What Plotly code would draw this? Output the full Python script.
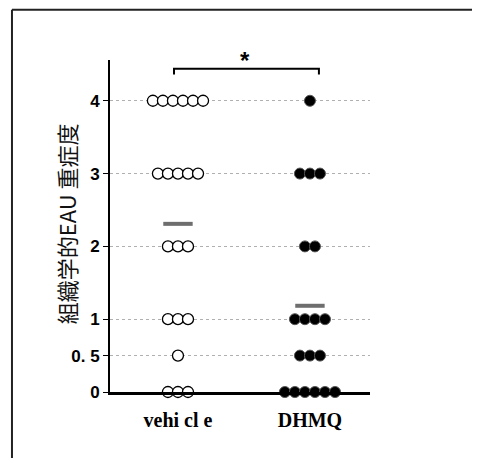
import plotly.graph_objects as go

# ---- data ----
groups = ["vehicle", "DHMQ"]
group_labels = ["vehi cl e", "DHMQ"]
score_levels = [0, 0.5, 1, 2, 3, 4]
vehicle_counts = [3, 1, 3, 3, 5, 6]   # number of animals at each score level
dhmq_counts = [6, 3, 4, 2, 3, 1]
y_tickvals = [0, 0.5, 1, 2, 3, 4]
y_ticktext = ["0", "0. 5", "1", "2", "3", "4"]
y_title = "組織学的EAU 重症度"
sig_label = "*"

# ---- layout helpers (swarm spacing in x data units) ----
STEP = 0.076

def swarm(center, counts):
    xs, ys = [], []
    for lvl, n in zip(score_levels, counts):
        for i in range(n):
            xs.append(center + (i - (n - 1) / 2) * STEP)
            ys.append(lvl)
    return xs, ys

def mean(counts):
    tot = sum(counts)
    return sum(l * n for l, n in zip(score_levels, counts)) / tot

vx, vy = swarm(0, vehicle_counts)
dx, dy = swarm(1, dhmq_counts)

fig = go.Figure()

# mean bars
fig.add_trace(go.Scatter(
    x=[0, 1], y=[mean(vehicle_counts), mean(dhmq_counts)], mode="markers",
    marker=dict(symbol="line-ew", size=21, line=dict(width=4, color="#6e6e6e")),
    showlegend=False, hoverinfo="skip", cliponaxis=False))

fig.add_trace(go.Scatter(
    x=vx, y=vy, mode="markers", name=groups[0],
    marker=dict(size=11, color="white", line=dict(color="black", width=1.3)),
    showlegend=False, cliponaxis=False))
fig.add_trace(go.Scatter(
    x=dx, y=dy, mode="markers", name=groups[1],
    marker=dict(size=11, color="black", line=dict(color="#555", width=1)),
    showlegend=False, cliponaxis=False))

# significance bracket
fig.add_trace(go.Scatter(
    x=[-0.03, -0.03, 1.068, 1.068], y=[4.36, 4.44, 4.44, 4.36], mode="lines",
    line=dict(color="black", width=2), showlegend=False, hoverinfo="skip",
    cliponaxis=False))
fig.add_annotation(x=0.51, xref="x", yref="paper", y=1.0, text=sig_label,
                   showarrow=False, yanchor="middle",
                   font=dict(family="Liberation Sans", size=24, color="black",
                             weight="bold"))

# y-axis title
fig.add_annotation(xref="paper", yref="paper", x=-0.238, y=0.506,
                   text=y_title, textangle=-90, showarrow=False,
                   font=dict(family="Noto Sans CJK JP", size=22, color="#111"))

# frame lines (left and top)
fig.add_shape(type="line", xref="paper", yref="paper", x0=-0.377, x1=-0.377,
              y0=-0.25, y1=1.151, line=dict(color="#222", width=2))
fig.add_shape(type="line", xref="paper", yref="paper", x0=-0.377, x1=1.5,
              y0=1.151, y1=1.151, line=dict(color="#222", width=2))

fig.update_layout(
    width=480, height=458,
    margin=dict(l=102, r=118, t=52, b=74),
    plot_bgcolor="white", paper_bgcolor="white",
    showlegend=False,
)
fig.update_xaxes(
    range=[-0.515, 1.455], tickvals=[0, 1], ticktext=group_labels,
    showline=True, linecolor="black", linewidth=2.5, showgrid=False,
    zeroline=False, ticks="", ticklabelstandoff=8,
    tickfont=dict(family="Liberation Serif", size=20, color="black", weight="bold"),
)
fig.update_yaxes(
    range=[0, 4.56], tickvals=y_tickvals, ticktext=y_ticktext,
    showline=True, linecolor="black", linewidth=2, zeroline=False,
    showgrid=True, gridcolor="#b0b0b0", griddash="dot", gridwidth=1,
    ticks="outside", ticklen=5, tickcolor="black", tickwidth=1,
    tickfont=dict(family="Liberation Sans", size=17, color="black", weight="bold"),
)

fig.write_html("out.html")
